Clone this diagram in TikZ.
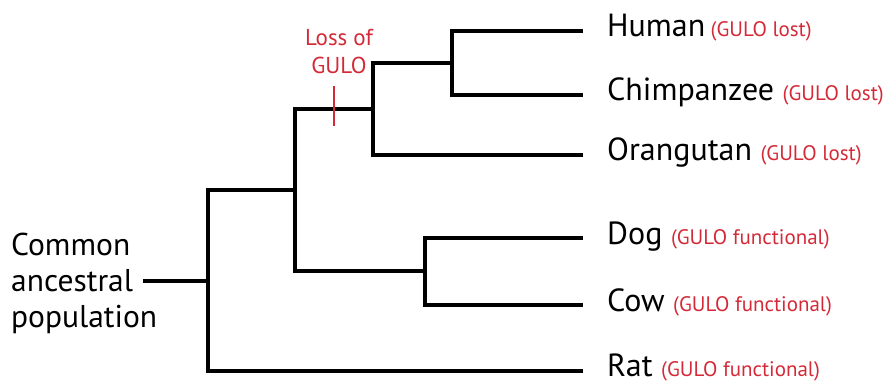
\documentclass[tikz,border=0pt]{standalone}
\usepackage{fontspec}
\setmainfont{PT Sans}
\definecolor{gulored}{RGB}{212,42,56}
\newcommand{\gulonote}[1]{\textcolor{gulored}{\fontsize{21}{24}\selectfont(#1)}}
\tikzset{
  branch/.style={line width=3.1pt, line join=miter, black},
  taxon/.style={anchor=base west, inner sep=0pt, font=\fontsize{32}{36}\selectfont},
  ancestor/.style={anchor=base west, inner sep=0pt, font=\fontsize{31.5}{36}\selectfont},
  note/.style={anchor=base, inner sep=0pt, text=gulored, font=\fontsize{23}{28}\selectfont},
  lossmark/.style={line width=2.8pt, gulored},
}
\begin{document}
\begin{tikzpicture}[x=1pt, y=-1pt]
  \useasboundingbox (0,0) rectangle (887,385);

  % leaf tips
  \coordinate (hum) at (583,31);
  \coordinate (chi) at (583,95);
  \coordinate (ora) at (583,155);
  \coordinate (dog) at (583,238);
  \coordinate (cow) at (583,305);
  \coordinate (rat) at (583,371);

  % internal nodes
  \coordinate (hc) at (452,63);
  \coordinate (ape) at (373,109);
  \coordinate (dc) at (425,271);
  \coordinate (mam) at (295,190);
  \coordinate (root) at (208,281);
  \coordinate (stem) at (143,281);

  % branches
  \draw[branch] (hum) -| (hc) |- (chi);
  \draw[branch] (hc) -| (ape) |- (ora);
  \draw[branch] (dog) -| (dc) |- (cow);
  \draw[branch] (ape) -| (mam) |- (dc);
  \draw[branch] (mam) -| (root) |- (rat);
  \draw[branch] (stem) -- (root);

  % taxon labels (baselines sit a little below the branch lines)
  \node[taxon] (lhum) at (607,37) {Human\,\gulonote{GULO lost}};
  \node[taxon] (lchi) at (607,101) {Chimpanzee\ \gulonote{GULO lost}};
  \node[taxon] (lora) at (607,161) {Orangutan\ \gulonote{GULO lost}};
  \node[taxon] (ldog) at (607,244) {Dog\ \gulonote{GULO functional}};
  \node[taxon] (lcow) at (607,311) {Cow\ \gulonote{GULO functional}};
  \node[taxon] (lrat) at (607,376) {Rat\ \gulonote{GULO functional}};

  % ancestral population
  \node[ancestor] (anc1) at (11,255) {Common};
  \node[ancestor] (anc2) at (11,291) {ancestral};
  \node[ancestor] (anc3) at (11,327) {population};

  % loss event
  \coordinate (lossA) at (334,86);
  \coordinate (lossB) at (334,126);
  \draw[lossmark] (lossA) -- (lossB);
  \node[note] (loss1) at (339,46) {Loss of};
  \node[note] (loss2) at (339,74) {GULO};
\end{tikzpicture}
\end{document}
